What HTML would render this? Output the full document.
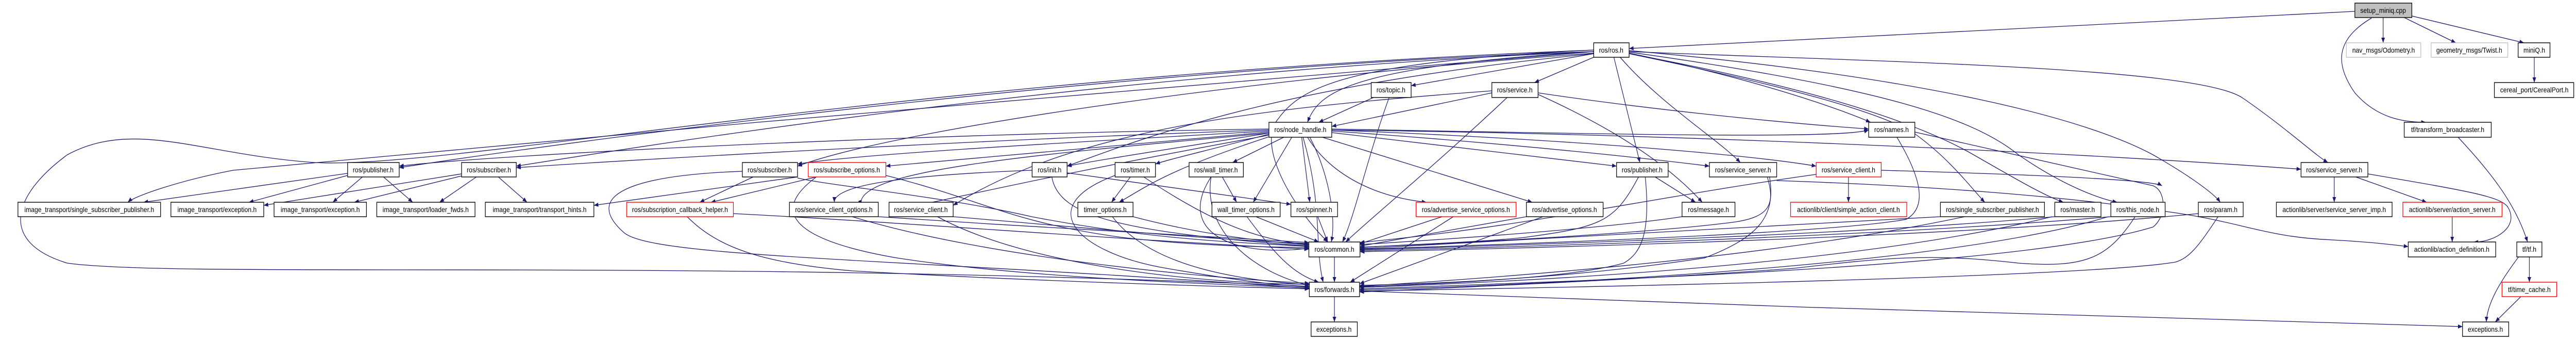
<!DOCTYPE html>
<html><head><meta charset="utf-8"><style>
html,body{margin:0;padding:0;background:#fff;width:100%;height:100%;overflow:hidden;}
svg{display:block;width:100vw;height:100vh;}
text{font-family:"Liberation Sans",sans-serif;font-size:14px;fill:#000;}
.n{fill:#fff;stroke:#000;stroke-width:1.4;}
.r{fill:#fff;stroke:#f00;stroke-width:1.4;}
.g{fill:#fff;stroke:#bfbfbf;stroke-width:1.4;}
.s{fill:#bfbfbf;stroke:#000;stroke-width:1.4;}
.e path{fill:none;stroke:#191970;stroke-width:1.3;marker-end:url(#a);}
</style></head><body>
<svg viewBox="0 0 5743 659" preserveAspectRatio="none" xmlns="http://www.w3.org/2000/svg">
<defs><marker id="a" markerWidth="10" markerHeight="8" refX="10" refY="4" orient="auto" markerUnits="userSpaceOnUse"><path d="M0,0 L10,4 L0,8 z" fill="#191970"/></marker></defs>
<g class="e">
<path d="M5250,22 L3632,94"/>
<path d="M5313,34 L5313,83"/>
<path d="M5360,34 L5475,83"/>
<path d="M5377,31 L5627,83"/>
<path d="M5287,35 C5200,80 5210,130 5250,180 C5300,230 5360,237 5408,237"/>
<path d="M5650,111 L5650,160"/>
<path d="M3553,97 C2000,150 1000,330 700,315 C450,300 300,230 150,300 C25,380 -2,470 150,510 C400,540 1500,500 2919,555"/>
<path d="M3553,100 C2500,130 1300,270 890,325"/>
<path d="M3553,100 C2500,140 1600,260 1151,322"/>
<path d="M3553,103 C2800,150 2000,250 1778,322"/>
<path d="M3553,100 C3000,130 2940,180 2915,237"/>
<path d="M3553,104 L3146,166"/>
<path d="M3553,111 L3421,160"/>
<path d="M3553,104 C2900,160 2600,250 2379,322"/>
<path d="M3598,111 L3656,315"/>
<path d="M3612,111 C3700,200 3830,270 3880,315"/>
<path d="M3632,103 C3900,150 4100,210 4170,237"/>
<path d="M3632,100 C4200,120 4900,130 5000,190 C5100,250 5160,300 5190,315"/>
<path d="M3632,104 C4000,170 4200,220 4270,260 C4350,310 4400,370 4425,392"/>
<path d="M3632,104 C4100,180 4300,250 4400,300 C4500,350 4560,380 4600,392"/>
<path d="M3632,101 C4200,170 4400,230 4500,300 C4600,360 4680,385 4720,392"/>
<path d="M3632,98 C4300,150 4650,230 4800,300 C4900,350 4940,380 4950,392"/>
<path d="M3553,97 C3000,120 2900,170 2850,230 C2800,280 2880,400 2960,469"/>
<path d="M3553,100 C2800,150 1500,250 520,330 C400,350 300,380 285,392"/>
<path d="M3062,189 L2940,237"/>
<path d="M3097,189 C3050,300 3020,420 2993,469"/>
<path d="M3326,180 L2969,245"/>
<path d="M3360,189 C3200,320 3060,420 3000,469"/>
<path d="M3429,183 C3600,250 3720,320 3795,392"/>
<path d="M3429,180 C3700,215 4000,240 4166,250"/>
<path d="M3326,176 C2800,210 2400,250 2125,398"/>
<path d="M2829,250 C2000,260 1100,300 890,322"/>
<path d="M2829,252 C2200,270 1400,310 1151,325"/>
<path d="M2829,254 C2300,280 1900,300 1778,318"/>
<path d="M2829,256 C2400,290 2100,310 1975,322"/>
<path d="M2829,258 C2600,290 2450,310 2379,322"/>
<path d="M2829,260 C2700,290 2600,310 2576,318"/>
<path d="M2862,266 L2748,315"/>
<path d="M2840,262 C2600,330 2560,360 2495,392"/>
<path d="M2880,266 L2794,392"/>
<path d="M2902,266 L2920,392"/>
<path d="M2915,266 C2960,330 3050,380 3180,392"/>
<path d="M2948,266 L3416,392"/>
<path d="M2969,257 C3300,290 3500,310 3604,322"/>
<path d="M2969,254 C3400,280 3700,310 3811,322"/>
<path d="M2969,252 C3500,270 3900,300 4049,322"/>
<path d="M2969,250 C3600,260 4100,270 4166,252"/>
<path d="M2969,252 C3800,260 4700,300 5130,328"/>
<path d="M2829,262 C2400,330 2200,370 2046,398"/>
<path d="M2829,258 C2300,300 1900,330 1920,398"/>
<path d="M2920,266 C2960,330 2980,420 2968,469"/>
<path d="M2905,266 C2950,400 2930,480 2950,547"/>
<path d="M775,336 L320,392"/>
<path d="M775,340 L555,392"/>
<path d="M808,343 L742,392"/>
<path d="M855,343 L920,392"/>
<path d="M1029,337 L588,398"/>
<path d="M1029,341 L790,392"/>
<path d="M1062,343 L980,392"/>
<path d="M1111,343 L1175,392"/>
<path d="M1679,343 L1560,392"/>
<path d="M1655,332 C1400,340 1300,380 1390,450 C1450,500 2000,500 2919,559"/>
<path d="M1778,343 L1324,398"/>
<path d="M1820,343 L1585,392"/>
<path d="M1778,345 C1850,360 2100,380 2300,420 C2600,470 2800,470 2918,478"/>
<path d="M1820,343 C1700,420 1800,470 2000,500 C2300,540 2700,550 2919,558"/>
<path d="M1975,340 C2200,390 2250,430 2500,460 C2700,480 2850,478 2918,480"/>
<path d="M1532,420 C1600,480 1700,510 1900,525 C2300,545 2700,555 2919,560"/>
<path d="M1635,414 C2000,430 2500,465 2918,483"/>
<path d="M2301,330 C2000,340 1860,360 1860,392"/>
<path d="M2345,343 C2360,420 2500,450 2918,477"/>
<path d="M2379,335 L2878,396"/>
<path d="M2520,343 L2478,392"/>
<path d="M2486,340 C2300,400 2400,490 2600,520 C2800,550 2880,555 2919,556"/>
<path d="M2550,343 C2700,430 2800,465 2918,474"/>
<path d="M2725,343 L2757,392"/>
<path d="M2700,343 C2620,450 2750,500 2918,481"/>
<path d="M2700,343 C2680,450 2800,530 2919,553"/>
<path d="M2526,420 C2700,460 2850,470 2918,475"/>
<path d="M2480,420 C2550,500 2700,540 2919,552"/>
<path d="M2800,420 L2940,469"/>
<path d="M2780,420 C2840,490 2880,530 2940,547"/>
<path d="M2938,420 L2960,469"/>
<path d="M2125,420 C2400,440 2700,465 2918,472"/>
<path d="M2090,420 C2300,520 2700,550 2919,551"/>
<path d="M1958,420 C2300,440 2700,460 2918,470"/>
<path d="M1900,420 C2200,500 2700,540 2919,549"/>
<path d="M3215,420 L3030,473"/>
<path d="M3240,420 L3010,547"/>
<path d="M3403,420 L3032,477"/>
<path d="M3440,420 L3031,550"/>
<path d="M3653,343 C3600,430 3570,440 3400,460 C3300,470 3100,475 3032,480"/>
<path d="M3668,343 C3680,450 3660,490 3620,510 C3500,540 3200,550 3031,556"/>
<path d="M3690,343 L3780,392"/>
<path d="M3750,420 C3600,440 3300,460 3032,474"/>
<path d="M3940,343 C3960,400 3940,420 3870,430 C3700,450 3300,470 3032,479"/>
<path d="M3945,343 C3960,420 3920,460 3800,500 C3500,540 3200,550 3031,553"/>
<path d="M3961,350 C4300,360 4600,380 4830,410 C5000,430 5050,460 5200,465 C5300,470 5340,475 5369,478"/>
<path d="M4194,330 C4600,340 4800,350 4820,360"/>
<path d="M4121,343 L4121,392"/>
<path d="M4049,338 C3700,380 3400,440 3032,470"/>
<path d="M4229,266 C4280,340 4300,400 4250,425 C4100,450 3500,470 3032,483"/>
<path d="M4269,256 C4500,300 4700,340 4800,360 C4830,370 4830,420 4800,440 C4500,520 3500,545 3031,560"/>
<path d="M4326,420 C3900,440 3400,465 3032,482"/>
<path d="M4380,420 C4000,490 3500,530 3031,555"/>
<path d="M4581,420 C4200,450 3600,470 3032,484"/>
<path d="M4575,420 C4200,500 3600,540 3031,557"/>
<path d="M4706,420 C4300,450 3700,472 3032,486"/>
<path d="M4700,420 C4400,500 3700,545 3031,562"/>
<path d="M4901,414 C4600,440 4000,470 3032,488"/>
<path d="M4945,420 C4900,480 4880,500 4850,508 C4700,530 4000,550 3031,564"/>
<path d="M4760,420 C4700,500 4650,520 4500,510 C4300,490 4200,500 4000,520 C3700,540 3300,555 3031,566"/>
<path d="M5204,343 L5204,392"/>
<path d="M5252,343 L5410,392"/>
<path d="M5279,337 C5500,370 5570,380 5590,400 C5620,440 5560,470 5515,469"/>
<path d="M5467,420 L5467,469"/>
<path d="M5480,266 C5560,340 5610,400 5635,469"/>
<path d="M5639,498 L5639,547"/>
<path d="M5615,498 C5570,550 5545,590 5543,624"/>
<path d="M5620,575 L5563,624"/>
<path d="M2975,498 L2975,547"/>
<path d="M2975,575 L2975,624"/>
<path d="M3031,564 C3800,590 5000,625 5490,633"/>
</g>
<g>
<rect class="s" x="5250" y="6" width="127" height="28"/><text x="5313" y="25" text-anchor="middle">setup_miniq.cpp</text>
<rect class="n" x="3553" y="83" width="79" height="28"/><text x="3592" y="102" text-anchor="middle">ros/ros.h</text>
<rect class="g" x="5231" y="83" width="166" height="28"/><text x="5314" y="102" text-anchor="middle">nav_msgs/Odometry.h</text>
<rect class="g" x="5420" y="83" width="171" height="28"/><text x="5505" y="102" text-anchor="middle">geometry_msgs/Twist.h</text>
<rect class="n" x="5614" y="83" width="71" height="28"/><text x="5650" y="102" text-anchor="middle">miniQ.h</text>
<rect class="n" x="3057" y="160" width="89" height="29"/><text x="3101" y="179" text-anchor="middle">ros/topic.h</text>
<rect class="n" x="3326" y="160" width="103" height="29"/><text x="3377" y="179" text-anchor="middle">ros/service.h</text>
<rect class="n" x="5561" y="160" width="177" height="29"/><text x="5650" y="179" text-anchor="middle">cereal_port/CerealPort.h</text>
<rect class="n" x="2829" y="237" width="140" height="29"/><text x="2899" y="256" text-anchor="middle">ros/node_handle.h</text>
<rect class="n" x="4166" y="237" width="103" height="29"/><text x="4217" y="256" text-anchor="middle">ros/names.h</text>
<rect class="n" x="5360" y="237" width="194" height="29"/><text x="5457" y="256" text-anchor="middle">tf/transform_broadcaster.h</text>
<rect class="n" x="775" y="315" width="115" height="28"/><text x="832" y="334" text-anchor="middle">ros/publisher.h</text>
<rect class="n" x="1029" y="315" width="122" height="28"/><text x="1090" y="334" text-anchor="middle">ros/subscriber.h</text>
<rect class="n" x="1655" y="315" width="123" height="28"/><text x="1716" y="334" text-anchor="middle">ros/subscriber.h</text>
<rect class="r" x="1802" y="315" width="173" height="28"/><text x="1888" y="334" text-anchor="middle">ros/subscribe_options.h</text>
<rect class="n" x="2301" y="315" width="78" height="28"/><text x="2340" y="334" text-anchor="middle">ros/init.h</text>
<rect class="n" x="2486" y="315" width="90" height="28"/><text x="2531" y="334" text-anchor="middle">ros/timer.h</text>
<rect class="n" x="2651" y="315" width="121" height="28"/><text x="2711" y="334" text-anchor="middle">ros/wall_timer.h</text>
<rect class="n" x="3604" y="315" width="115" height="28"/><text x="3661" y="334" text-anchor="middle">ros/publisher.h</text>
<rect class="n" x="3811" y="315" width="150" height="28"/><text x="3886" y="334" text-anchor="middle">ros/service_server.h</text>
<rect class="r" x="4049" y="315" width="145" height="28"/><text x="4121" y="334" text-anchor="middle">ros/service_client.h</text>
<rect class="n" x="5130" y="315" width="149" height="28"/><text x="5204" y="334" text-anchor="middle">ros/service_server.h</text>
<rect class="n" x="40" y="392" width="318" height="28"/><text x="199" y="411" text-anchor="middle">image_transport/single_subscriber_publisher.h</text>
<rect class="n" x="381" y="392" width="207" height="28"/><text x="484" y="411" text-anchor="middle">image_transport/exception.h</text>
<rect class="n" x="611" y="392" width="206" height="28"/><text x="714" y="411" text-anchor="middle">image_transport/exception.h</text>
<rect class="n" x="840" y="392" width="219" height="28"/><text x="949" y="411" text-anchor="middle">image_transport/loader_fwds.h</text>
<rect class="n" x="1082" y="392" width="242" height="28"/><text x="1203" y="411" text-anchor="middle">image_transport/transport_hints.h</text>
<rect class="r" x="1397" y="392" width="238" height="28"/><text x="1516" y="411" text-anchor="middle">ros/subscription_callback_helper.h</text>
<rect class="n" x="1760" y="392" width="198" height="28"/><text x="1859" y="411" text-anchor="middle">ros/service_client_options.h</text>
<rect class="n" x="1982" y="392" width="143" height="28"/><text x="2053" y="411" text-anchor="middle">ros/service_client.h</text>
<rect class="n" x="2403" y="392" width="123" height="28"/><text x="2464" y="411" text-anchor="middle">timer_options.h</text>
<rect class="n" x="2702" y="392" width="152" height="28"/><text x="2778" y="411" text-anchor="middle">wall_timer_options.h</text>
<rect class="n" x="2878" y="392" width="104" height="28"/><text x="2930" y="411" text-anchor="middle">ros/spinner.h</text>
<rect class="r" x="3157" y="392" width="223" height="28"/><text x="3268" y="411" text-anchor="middle">ros/advertise_service_options.h</text>
<rect class="n" x="3403" y="392" width="171" height="28"/><text x="3488" y="411" text-anchor="middle">ros/advertise_options.h</text>
<rect class="n" x="3750" y="392" width="118" height="28"/><text x="3809" y="411" text-anchor="middle">ros/message.h</text>
<rect class="r" x="3992" y="392" width="259" height="28"/><text x="4121" y="411" text-anchor="middle">actionlib/client/simple_action_client.h</text>
<rect class="n" x="4326" y="392" width="232" height="28"/><text x="4442" y="411" text-anchor="middle">ros/single_subscriber_publisher.h</text>
<rect class="n" x="4581" y="392" width="103" height="28"/><text x="4632" y="411" text-anchor="middle">ros/master.h</text>
<rect class="n" x="4706" y="392" width="121" height="28"/><text x="4766" y="411" text-anchor="middle">ros/this_node.h</text>
<rect class="n" x="4901" y="392" width="100" height="28"/><text x="4951" y="411" text-anchor="middle">ros/param.h</text>
<rect class="n" x="5075" y="392" width="258" height="28"/><text x="5204" y="411" text-anchor="middle">actionlib/server/service_server_imp.h</text>
<rect class="r" x="5357" y="392" width="221" height="28"/><text x="5467" y="411" text-anchor="middle">actionlib/server/action_server.h</text>
<rect class="n" x="2918" y="469" width="114" height="29"/><text x="2975" y="488" text-anchor="middle">ros/common.h</text>
<rect class="n" x="5369" y="469" width="195" height="29"/><text x="5466" y="488" text-anchor="middle">actionlib/action_definition.h</text>
<rect class="n" x="5611" y="469" width="56" height="29"/><text x="5639" y="488" text-anchor="middle">tf/tf.h</text>
<rect class="n" x="2919" y="547" width="112" height="28"/><text x="2975" y="566" text-anchor="middle">ros/forwards.h</text>
<rect class="r" x="5578" y="547" width="122" height="28"/><text x="5639" y="566" text-anchor="middle">tf/time_cache.h</text>
<rect class="n" x="2923" y="624" width="103" height="28"/><text x="2974" y="643" text-anchor="middle">exceptions.h</text>
<rect class="n" x="5490" y="624" width="103" height="28"/><text x="5541" y="643" text-anchor="middle">exceptions.h</text>
</g>
</svg>
</body></html>
